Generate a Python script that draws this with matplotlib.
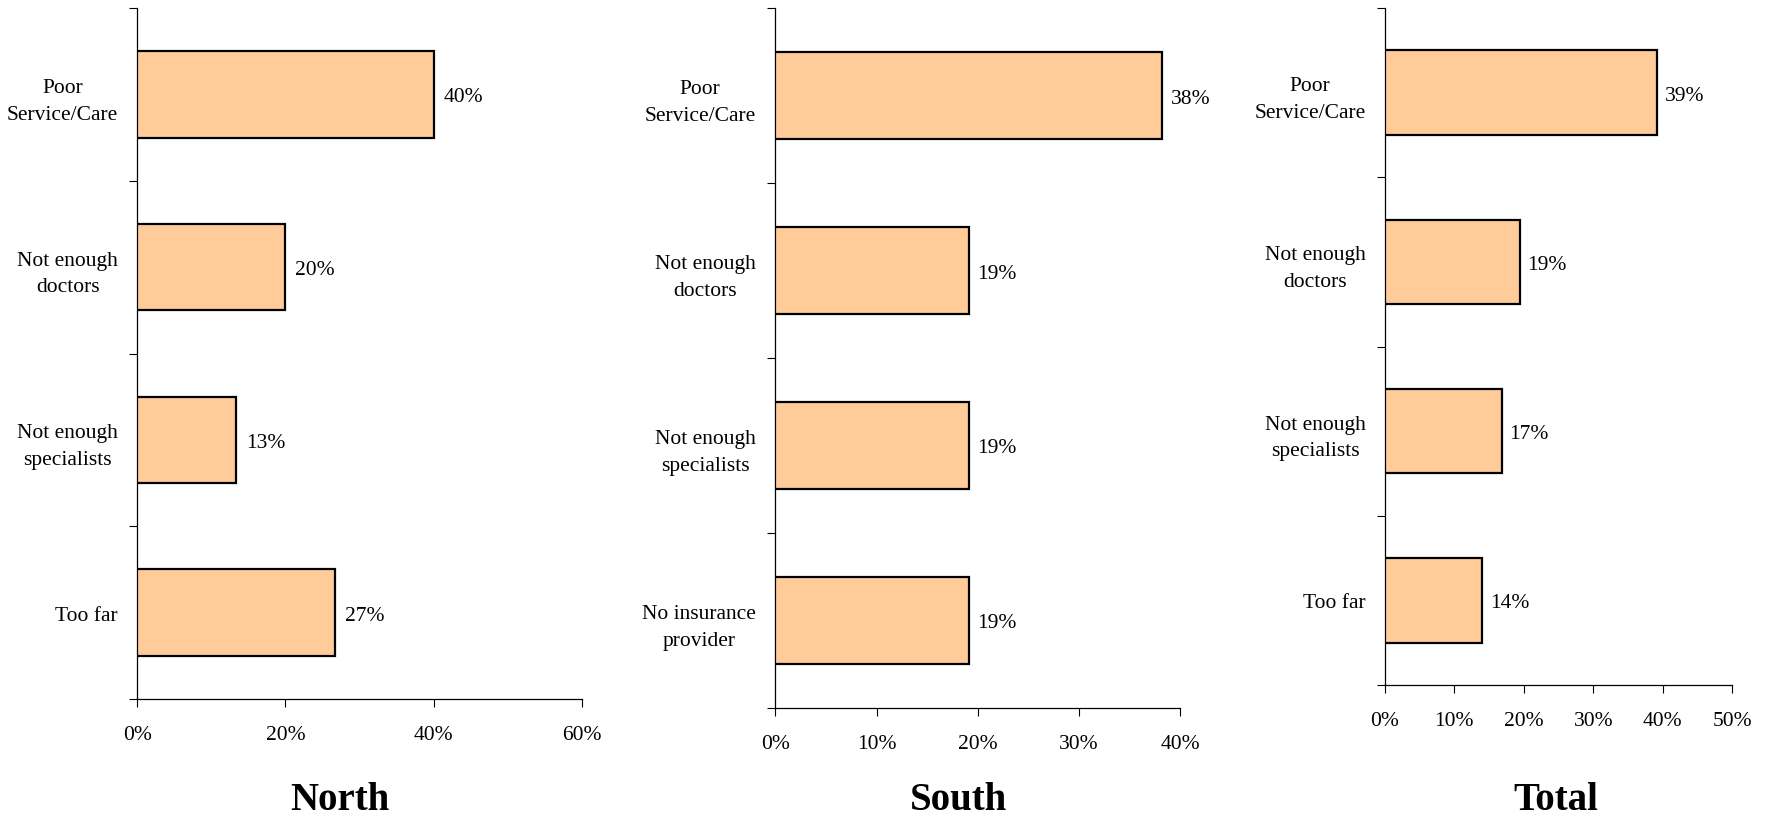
import matplotlib.pyplot as plt
import numpy as np

# ---- data ----
north_cats = ['Poor\nService/Care', 'Not enough\ndoctors', 'Not enough\nspecialists', 'Too far']
north_vals = [40.0, 20.0, 13.3, 26.7]

south_cats = ['Poor\nService/Care', 'Not enough\ndoctors', 'Not enough\nspecialists', 'No insurance\nprovider']
south_vals = [38.2, 19.1, 19.1, 19.1]

total_cats = ['Poor\nService/Care', 'Not enough\ndoctors', 'Not enough\nspecialists', 'Too far']
total_vals = [39.2, 19.4, 16.8, 14.0]

panel_titles = ['North', 'South', 'Total']
xmax = [60, 40, 50]
xstep = [20, 10, 10]

plt.rcParams['font.family'] = ['Liberation Serif', 'DejaVu Serif']

fig = plt.figure(figsize=(17.67, 8.2), dpi=100)

# axes boxes in figure fractions [left, bottom, width, height]
boxes = [
    [0.0778, 0.1463, 0.2513, 0.8427],
    [0.4388, 0.1354, 0.2290, 0.8536],
    [0.7838, 0.1634, 0.1964, 0.8256],
]
title_x = [0.1924, 0.5427, 0.8806]

panels = [(north_cats, north_vals), (south_cats, south_vals), (total_cats, total_vals)]

for i, (cats, vals) in enumerate(panels):
    ax = fig.add_axes(boxes[i])
    y = np.arange(len(cats))
    ax.barh(y, vals, height=0.5, color='#FFCC99', edgecolor='black', linewidth=1.6, zorder=3)

    ax.set_ylim(len(cats) - 0.5, -0.5)
    ax.set_xlim(0, xmax[i])

    # major y ticks at category borders, labels on minor ticks at centers
    ax.set_yticks(np.arange(-0.5, len(cats), 1.0))
    ax.set_yticklabels([])
    ax.set_yticks(y, minor=True)
    ax.set_yticklabels(cats, minor=True, fontsize=15.5, multialignment='center', linespacing=1.55)
    ax.tick_params(axis='y', which='minor', length=0, pad=14)
    ax.tick_params(axis='y', which='major', length=6, width=0.8)

    xt = np.arange(0, xmax[i] + 1, xstep[i])
    ax.set_xticks(xt)
    ax.set_xticklabels([f'{v}%' for v in xt], fontsize=15.5)
    ax.tick_params(axis='x', length=6, width=0.8, pad=13)

    for s in ['top', 'right']:
        ax.spines[s].set_visible(False)
    for s in ['left', 'bottom']:
        ax.spines[s].set_linewidth(0.9)

    for yy, v in zip(y, vals):
        ax.text(v + xmax[i] * 0.022, yy, f'{v:.0f}%', va='center_baseline', ha='left', fontsize=15.5)

    fig.text(title_x[i], 0.001, panel_titles[i], ha='center', va='bottom',
             fontsize=28, fontweight='bold')

fig.savefig('out.png', dpi=100)
